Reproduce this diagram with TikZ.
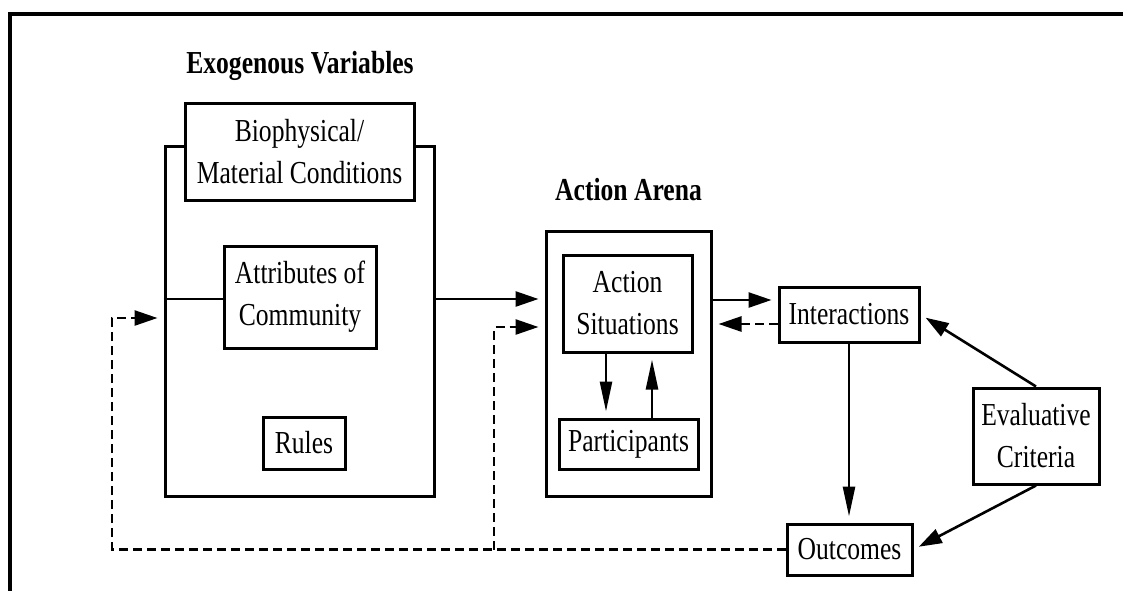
\documentclass[tikz,border=0pt]{standalone}
\usepackage{fontspec}
\setmainfont{Liberation Serif}[FakeStretch=0.8]
\usepackage{tikz}
\usetikzlibrary{arrows.meta}
\usetikzlibrary{calc}
\usetikzlibrary{positioning}

\begin{document}
\begin{tikzpicture}[x=0.5pt, y=-0.5pt,
    box/.style={draw, line width=1.5pt, fill=white, align=center, inner sep=0pt,
      font=\fontsize{16}{21}\selectfont},
    heading/.style={anchor=base, font=\fontsize{16}{21}\selectfont\bfseries},
    arr/.style={line width=1.3pt, -{Triangle[length=11.5pt, width=7.5pt]}, shorten >=3pt},
    arrlong/.style={arr, -{Triangle[length=15pt, width=6pt]}},
    fb/.style={arr, dash pattern=on 4.5pt off 2.5pt}]

    \useasboundingbox (0, 0) rectangle (1123, 590);
    % frame
    \draw [line width=1.8pt] (1140, 14) -- (10, 14) -- (10, 610);

    % exogenous variables
    \node [heading] (exotitle) at (300, 73) {Exogenous Variables};
    \node [box, minimum width=134.5pt, minimum height=175pt] (exo) at (299.5, 321) {};
    \node [box, minimum width=114.5pt, minimum height=48.5pt] (bio) at (299.5, 151.5)
      {Biophysical/\\Material Conditions};
    \node [box, minimum width=76pt, minimum height=51pt] (attr) at (300, 297)
      {Attributes of\\Community};
    \node [box, minimum width=41pt, minimum height=26pt] (rules) at (304, 443) {Rules};

    % action arena
    \node [heading] (arenatitle) at (628.5, 200.5) {Action Arena};
    \node [box, minimum width=82.5pt, minimum height=132.5pt] (arena) at (628.5, 363.5) {};
    \node [box, minimum width=64.5pt, minimum height=48.5pt] (sit) at (627.5, 303.5)
      {Action\\Situations};
    \node [box, minimum width=69.5pt, minimum height=25pt] (part) at (628.5, 444) {Participants};

    % results
    \node [box, minimum width=70pt, minimum height=27.5pt] (inter) at (849, 314.5) {Interactions};
    \node [box, minimum width=62.5pt, minimum height=25.5pt] (out) at (849.5, 549.5) {Outcomes};
    \node [box, minimum width=63pt, minimum height=48pt] (eval) at (1036, 436)
      {Evaluative\\Criteria};

    % arrows
    \coordinate (e1) at (0, 299);
    \draw [line width=1.3pt] (exo.west |- e1) -- (attr.west |- e1);
    \draw [arr] (exo.east |- e1) -- (arena.west |- e1);
    \draw [arr] ($(arena.east)+(0,-63.5)$) coordinate (a1) -- (inter.west |- a1);
    \draw [fb] ($(inter.west)+(0,9.5)$) coordinate (i1) -- (arena.east |- i1);
    \draw [arrlong] ($(sit.south)+(-21.5,0)$) coordinate (s1) -- (part.north -| s1);
    \draw [arrlong] ($(part.north)+(23.5,0)$) coordinate (p1) -- (sit.south -| p1);
    \draw [arrlong] (inter.south) -- (inter.south |- out.north);
    \draw [arr] (eval.north) -- (inter.east);
    \draw [arr] (eval.south) -- (out.east);

    % feedback
    \coordinate (fb1) at (494, 549.5);
    \coordinate (fb2) at (112, 549.5);
    \draw [fb] (out.west) -- (fb2) |- ($(exo.west)+(0,-3)$);
    \draw [fb] (fb1) |- ($(arena.west)+(0,-36.5)$);

\end{tikzpicture}
\end{document}
